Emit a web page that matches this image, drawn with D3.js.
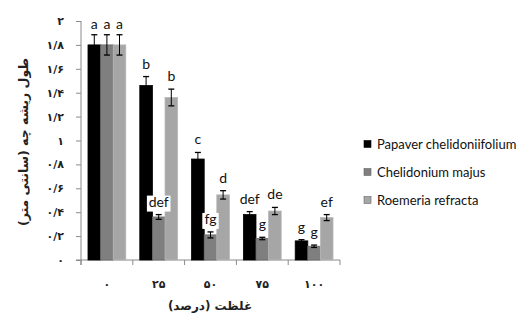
<!DOCTYPE html>
<html>
<head>
<meta charset="utf-8">
<script src="https://cdn.jsdelivr.net/npm/d3@7"></script>
<style>
  body { margin: 0; background: #fff; }
  svg { display: block; }
</style>
</head>
<body>
<svg id="chart" width="531" height="322"></svg>
<script>
// concentration groups (percent) and their persian labels
var groups = ["0", "25", "50", "75", "100"];
var groupLabels = ["۰", "۲۵", "۵۰", "۷۵", "۱۰۰"];
var species = ["Papaver chelidoniifolium", "Chelidonium majus", "Roemeria refracta"];

// root length (cm) per species, one value per group
var papaverVals = [1.8, 1.46, 0.845, 0.38, 0.16];
var chelidoniumVals = [1.8, 0.36, 0.21, 0.18, 0.115];
var roemeriaVals = [1.8, 1.36, 0.545, 0.41, 0.355];

// error bars
var papaverErr = [0.085, 0.075, 0.055, 0.025, 0.01];
var chelidoniumErr = [0.085, 0.02, 0.025, 0.01, 0.01];
var roemeriaErr = [0.085, 0.07, 0.035, 0.03, 0.025];

// significance letters
var papaverLetters = ["a", "b", "c", "def", "g"];
var chelidoniumLetters = ["a", "def", "fg", "g", "g"];
var roemeriaLetters = ["a", "b", "d", "de", "ef"];

var yTicks = [0, 0.2, 0.4, 0.6, 0.8, 1, 1.2, 1.4, 1.6, 1.8, 2];
var yTickLabels = ["۰", "۰/۲", "۰/۴", "۰/۶", "۰/۸", "۱", "۱/۲", "۱/۴", "۱/۶", "۱/۸", "۲"];

var fills = ["#000000", "#7f7f7f", "#a6a6a6"];
var strokes = ["#000000", "#6a6a6a", "#b8b8b8"];

var svg = d3.select("#chart");
var padding = { l: 81, r: 191, t: 21, b: 62 };
var plotW = 340 - padding.l;
var plotH = 260 - padding.t;

var x0 = d3.scaleBand().domain(groups).range([0, plotW]).paddingInner(0.27).paddingOuter(0.135);
var x1 = d3.scaleBand().domain(species).range([0, x0.bandwidth()]);
var y = d3.scaleLinear().domain([0, 2]).range([plotH, 0]);

var g = svg.append("g").attr("transform", `translate(${padding.l},${padding.t})`);

// build rows
var rows = [];
var vals = [papaverVals, chelidoniumVals, roemeriaVals];
var errs = [papaverErr, chelidoniumErr, roemeriaErr];
var lets = [papaverLetters, chelidoniumLetters, roemeriaLetters];
groups.forEach((grp, i) => {
  species.forEach((sp, j) => {
    rows.push({ group: grp, sp: sp, j: j, v: vals[j][i], e: errs[j][i], letter: lets[j][i] });
  });
});

// y axis
var yAxis = d3.axisLeft(y).tickValues(yTicks).tickSize(5).tickFormat((d, i) => yTickLabels[i]);
var yA = g.append("g").call(yAxis);
yA.select(".domain").attr("stroke", "#8a8a8a").attr("d", `M0,${plotH + 5}V0`);
yA.selectAll(".tick line").attr("stroke", "#8a8a8a");
yA.selectAll(".tick text")
  .attr("x", -17)
  .style("font-family", "DejaVu Sans")
  .style("font-size", "11px")
  .style("font-weight", "bold")
  .attr("fill", "#222");

// x axis: ticks at band boundaries
var xA = g.append("g").attr("transform", `translate(0,${plotH})`);
xA.append("line").attr("x1", -5).attr("x2", plotW).attr("stroke", "#8a8a8a");
xA.selectAll(".xt").data(d3.range(groups.length + 1)).enter().append("line")
  .attr("class", "xt")
  .attr("x1", d => d * plotW / groups.length).attr("x2", d => d * plotW / groups.length)
  .attr("y1", 0).attr("y2", 5)
  .attr("stroke", "#8a8a8a");
xA.selectAll(".xl").data(groups).enter().append("text")
  .attr("class", "xl")
  .attr("x", d => x0(d) + x0.bandwidth() / 2)
  .attr("y", 28)
  .attr("text-anchor", "middle")
  .style("font-family", "DejaVu Sans")
  .style("font-size", "11px")
  .style("font-weight", "bold")
  .attr("fill", "#222")
  .text((d, i) => groupLabels[i]);

// bars
g.selectAll(".bar").data(rows).enter().append("rect")
  .attr("class", "bar")
  .attr("x", d => x0(d.group) + x1(d.sp))
  .attr("width", x1.bandwidth())
  .attr("y", d => y(d.v))
  .attr("height", d => y(0) - y(d.v))
  .attr("fill", d => fills[d.j])
  .attr("stroke", d => strokes[d.j])
  .attr("stroke-width", 0.8);

// error bars
var eb = g.selectAll(".err").data(rows).enter().append("g").attr("class", "err")
  .attr("transform", d => `translate(${x0(d.group) + x1(d.sp) + x1.bandwidth() / 2},0)`);
eb.append("line").attr("y1", d => y(d.v + d.e)).attr("y2", d => y(d.v - d.e)).attr("stroke", "#000");
eb.append("line").attr("x1", -3).attr("x2", 3).attr("y1", d => y(d.v + d.e)).attr("y2", d => y(d.v + d.e)).attr("stroke", "#000").attr("stroke-width", 1.3);
eb.append("line").attr("x1", -3).attr("x2", 3).attr("y1", d => y(d.v - d.e)).attr("y2", d => y(d.v - d.e)).attr("stroke", "#000").attr("stroke-width", 1.3);

// letters with white background
var lab = g.selectAll(".lab").data(rows).enter().append("g").attr("class", "lab")
  .attr("transform", d => `translate(${x0(d.group) + x1(d.sp) + x1.bandwidth() / 2},${y(d.v + d.e) - (d.group === "0" ? 6 : 8)})`);
lab.filter(d => d.j !== 0 && d.group !== "0").append("rect")
  .attr("x", d => -d.letter.length * 3.6 - 1)
  .attr("width", d => d.letter.length * 7.2 + 2)
  .attr("y", -11).attr("height", 16)
  .attr("fill", "#fff");
lab.append("text")
  .attr("text-anchor", "middle")
  .style("font-family", "Lato")
  .style("font-size", "14px")
  .attr("fill", "#111")
  .text(d => d.letter);

// axis titles
svg.append("text")
  .attr("transform", "translate(28,142) rotate(-90)")
  .attr("text-anchor", "middle")
  .style("font-family", "DejaVu Sans")
  .style("font-size", "12.5px")
  .style("font-weight", "bold")
  .attr("fill", "#222")
  .text("طول ریشه چه (سانتی متر)");

svg.append("text")
  .attr("x", 210).attr("y", 310)
  .attr("text-anchor", "middle")
  .style("font-family", "DejaVu Sans")
  .style("font-size", "12px")
  .style("font-weight", "bold")
  .attr("fill", "#222")
  .text("غلظت (درصد)");

// legend
var leg = svg.append("g").attr("transform", "translate(364,144)");
var li = leg.selectAll(".li").data(species).enter().append("g")
  .attr("transform", (d, i) => `translate(0,${i * 28})`);
li.append("rect").attr("x", 0).attr("y", -3.5).attr("width", 7).attr("height", 7)
  .attr("fill", (d, i) => fills[i]).attr("stroke", (d, i) => i === 0 ? "#000" : "#666").attr("stroke-width", 0.6);
li.append("text").attr("x", 13).attr("y", 4.5)
  .style("font-family", "Lato")
  .style("font-size", "13px")
  .attr("fill", "#111")
  .text(d => d);
</script>
</body>
</html>
